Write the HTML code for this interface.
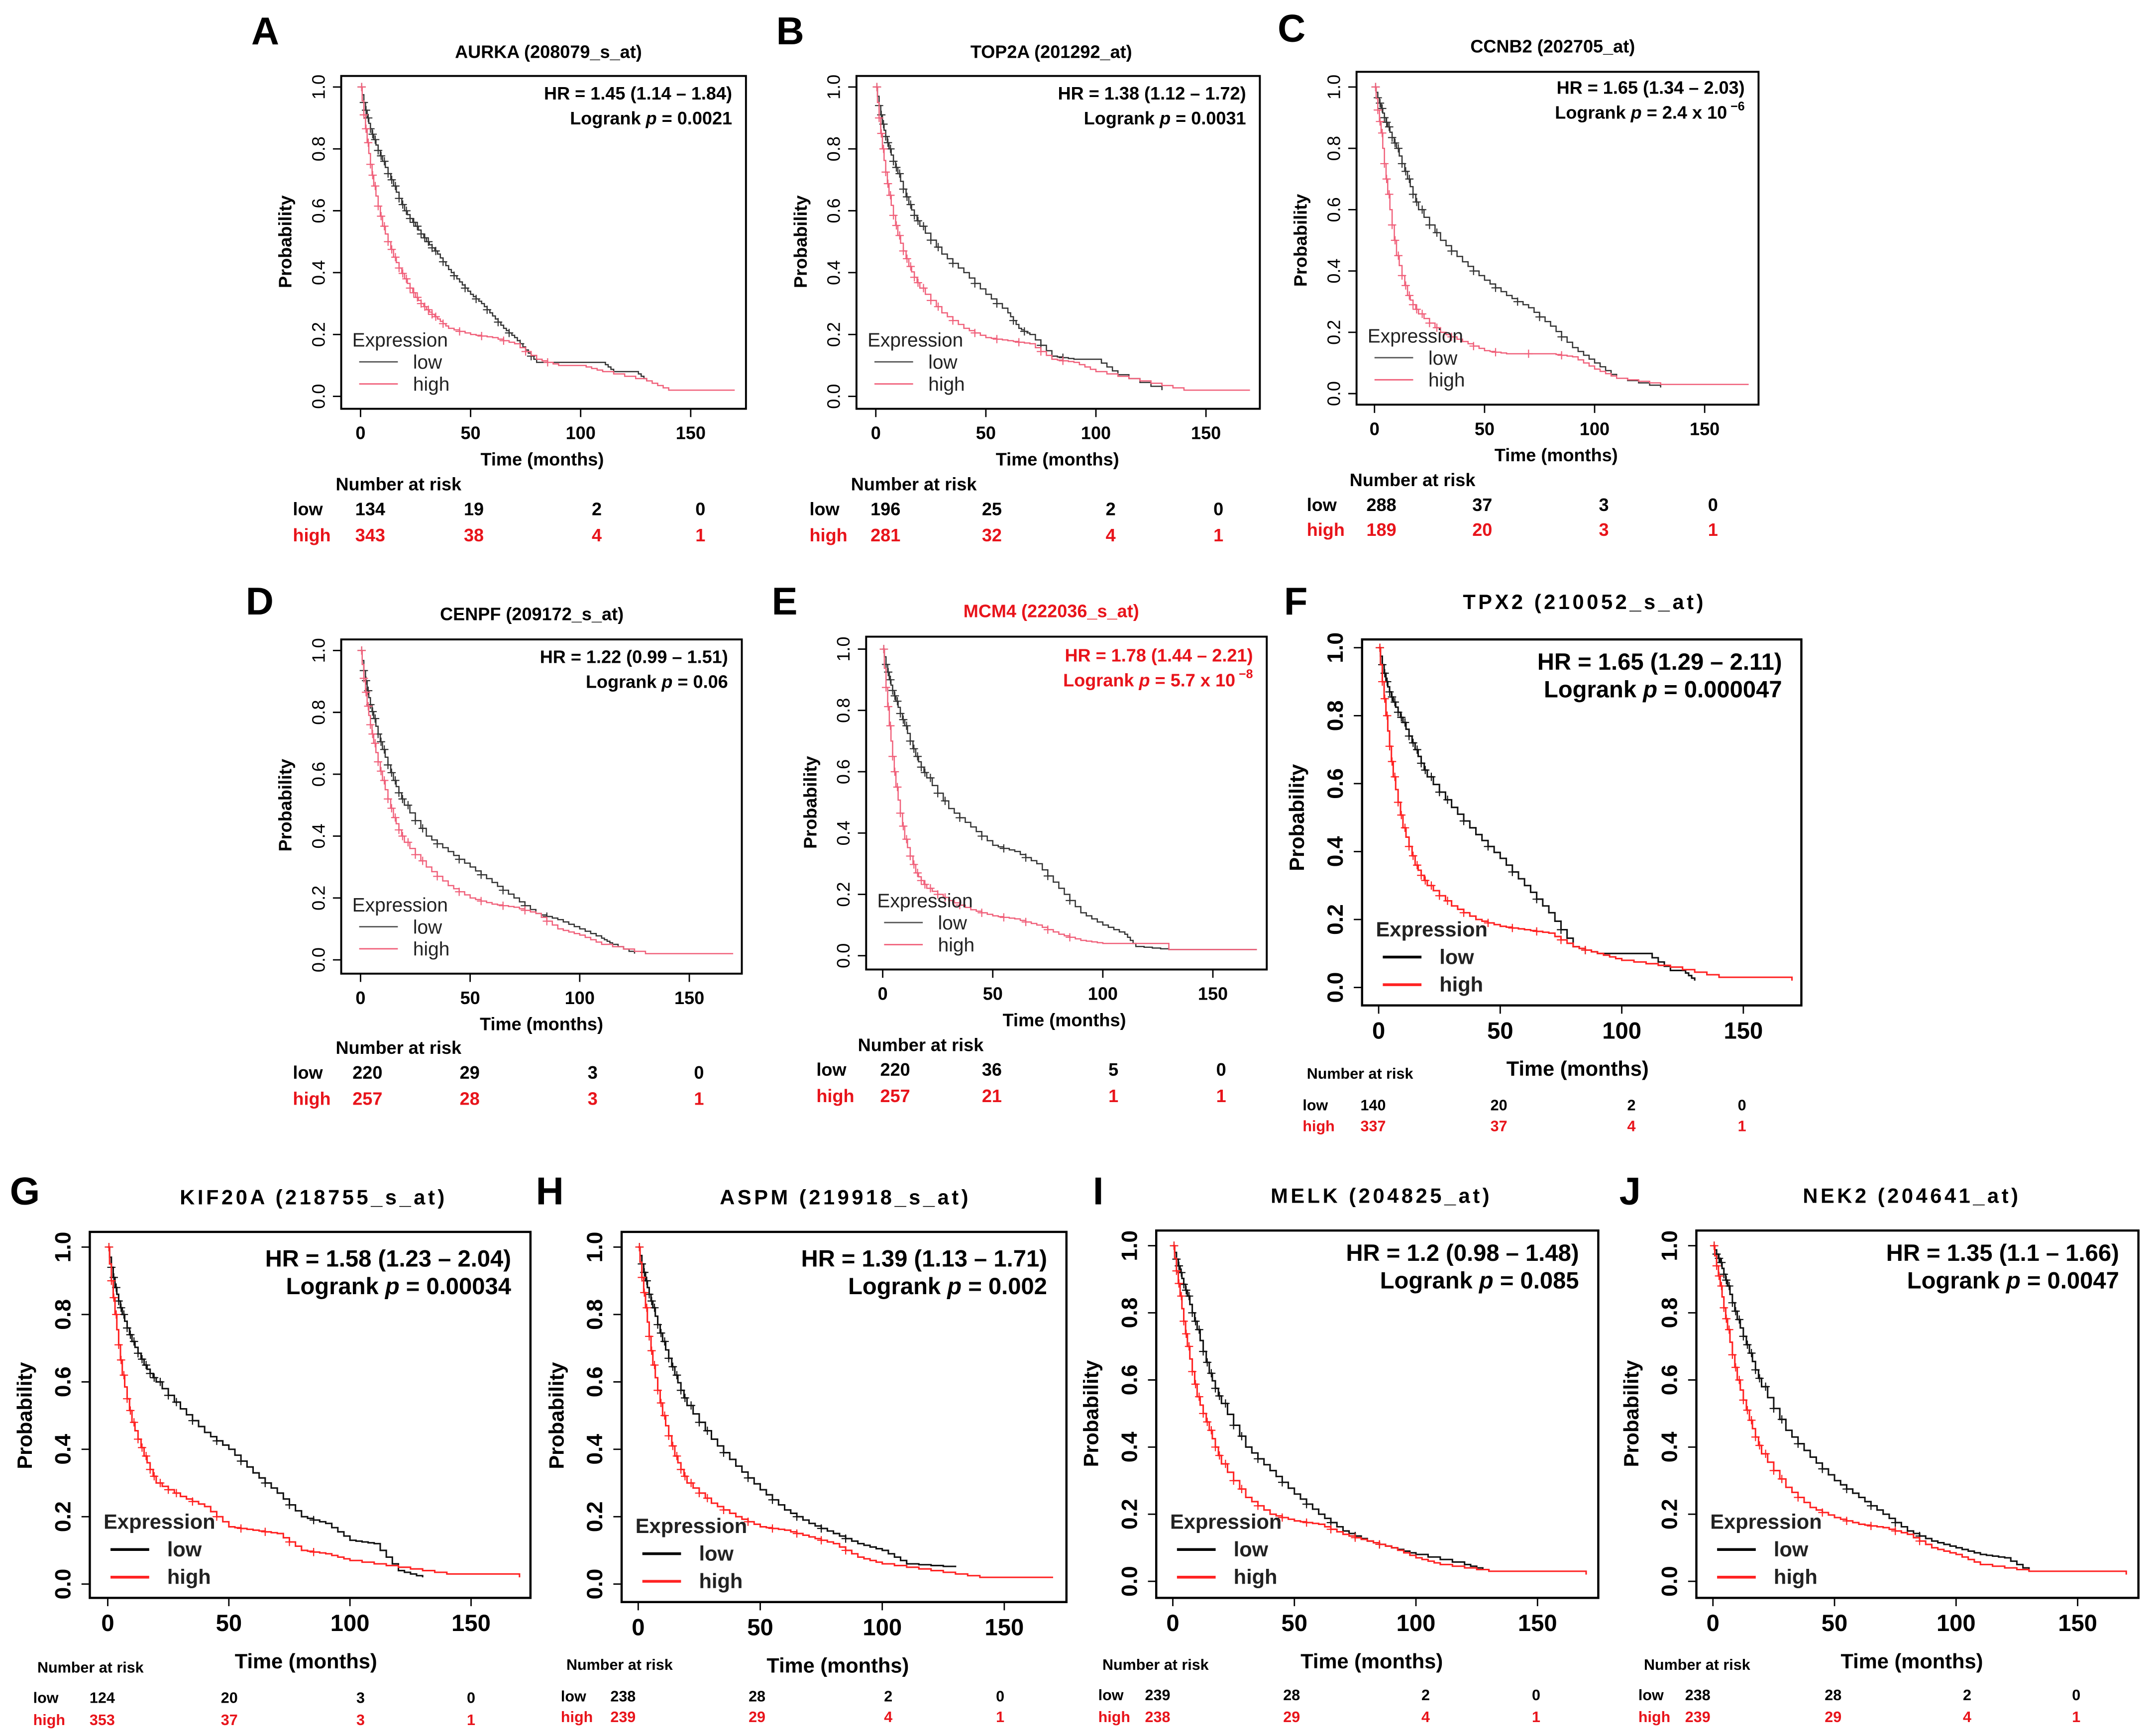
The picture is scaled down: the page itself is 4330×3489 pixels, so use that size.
<!DOCTYPE html>
<html><head><meta charset="utf-8"><style>
html,body{margin:0;padding:0;background:#fff;}
svg{display:block;font-family:"Liberation Sans",Arial,sans-serif;}
</style></head><body>
<svg id="fig" width="4330" height="3489" viewBox="0 0 1560 1257" xmlns="http://www.w3.org/2000/svg">
<rect x="0" y="0" width="1560" height="1257" fill="#fff"/>
</svg>
<script>
// ---- data: KM curves (time in months, survival probability) ----
const aLowT=[0,3,6,10,15,20,25,30,35,40,45,50,55,60,65,70,75,80,110,115,125,130];
const aLowS=[1,.9,.83,.76,.68,.6,.55,.5,.46,.41,.37,.33,.3,.26,.22,.19,.15,.11,.11,.08,.08,.05];
const aHighT=[0,3,6,10,15,20,25,30,35,40,50,60,70,80,90,100,110,130,140,170];
const aHighS=[1,.82,.68,.55,.45,.38,.32,.28,.25,.22,.2,.19,.17,.12,.1,.1,.08,.05,.02,.02];
const bLowT=[0,3,6,10,15,20,30,40,50,60,65,70,80,90,100,110,130];
const bLowS=[1,.88,.8,.72,.62,.55,.46,.4,.33,.27,.22,.2,.13,.12,.12,.07,.02];
const bHighT=[0,3,6,10,15,20,30,40,50,60,70,80,90,100,120,140,170];
const bHighS=[1,.8,.65,.52,.42,.35,.27,.22,.19,.18,.17,.12,.11,.08,.05,.02,.02];
const cLowT=[0,3,6,10,15,20,30,40,50,60,70,80,90,100,110,130];
const cLowS=[1,.93,.87,.8,.7,.6,.5,.43,.37,.32,.28,.22,.15,.1,.05,.02];
const cHighT=[0,3,6,10,15,20,30,40,50,60,80,90,100,110,130,170];
const cHighS=[1,.85,.65,.45,.32,.26,.2,.17,.14,.13,.13,.12,.08,.05,.03,.03];
const dLowT=[0,3,6,10,15,20,30,40,50,60,70,80,90,100,110,115,125];
const dLowS=[1,.87,.78,.68,.58,.5,.4,.35,.3,.25,.2,.15,.13,.1,.07,.05,.02];
const dHighT=[0,3,6,10,15,20,30,40,50,60,70,80,90,100,110,130,170];
const dHighS=[1,.82,.7,.58,.46,.38,.3,.24,.2,.18,.17,.15,.1,.08,.05,.02,.02];
const eLowT=[0,3,6,10,15,20,30,40,50,60,70,80,90,100,110,115,130,140,170];
const eLowS=[1,.9,.83,.75,.65,.58,.48,.42,.36,.34,.3,.22,.14,.1,.07,.03,.02,.02,.02];
const eHighT=[0,3,6,10,15,20,30,40,50,60,70,80,90,100,130,170];
const eHighS=[1,.75,.55,.38,.27,.22,.18,.15,.13,.12,.1,.07,.05,.04,.02,.02];
const fLowT=[0,3,6,10,15,20,30,40,50,60,70,80,90,100,110,120,125,130];
const fLowS=[1,.9,.84,.78,.7,.62,.53,.45,.38,.3,.22,.12,.1,.1,.1,.05,.05,.02];
const fHighT=[0,3,6,10,15,20,30,40,50,60,70,80,90,100,120,140,170];
const fHighS=[1,.8,.62,.47,.36,.3,.24,.2,.18,.17,.16,.12,.1,.08,.06,.03,.02];
const gLowT=[0,3,6,10,15,20,30,40,50,60,70,80,90,100,110,120,130];
const gLowS=[1,.88,.8,.72,.65,.6,.52,.45,.4,.33,.27,.2,.18,.13,.12,.04,.02];
const gHighT=[0,3,6,10,15,20,30,40,50,60,70,80,90,100,120,140,170];
const gHighS=[1,.8,.62,.48,.38,.3,.26,.23,.17,.16,.15,.1,.09,.07,.05,.03,.02];
const hLowT=[0,3,6,10,15,20,30,40,50,60,70,80,90,100,110,130];
const hLowS=[1,.9,.82,.72,.62,.53,.43,.35,.28,.22,.18,.15,.12,.1,.06,.05];
const hHighT=[0,3,6,10,15,20,30,40,50,60,70,80,90,100,120,140,170];
const hHighS=[1,.82,.65,.5,.38,.3,.24,.2,.17,.16,.14,.12,.08,.06,.04,.02,.02];
const iLowT=[0,3,6,10,15,20,30,40,50,60,70,80,90,100,120,130];
const iLowS=[1,.92,.85,.75,.62,.53,.4,.33,.26,.2,.15,.12,.1,.08,.05,.03];
const iHighT=[0,3,6,10,15,20,30,40,50,60,70,80,90,100,110,130,170];
const iHighS=[1,.85,.7,.55,.45,.35,.25,.2,.18,.17,.14,.12,.1,.07,.05,.03,.02];
const jLowT=[0,3,6,10,15,20,30,40,50,60,70,80,90,100,110,120,130];
const jLowS=[1,.95,.88,.78,.68,.58,.45,.37,.3,.25,.2,.15,.12,.1,.08,.07,.03];
const jHighT=[0,3,6,10,15,20,30,40,50,60,70,80,90,100,110,130,170];
const jHighS=[1,.88,.75,.6,.48,.38,.28,.22,.19,.17,.16,.14,.1,.08,.05,.03,.02];
// risk table values
const riskTimes=[0,50,100,150];
const aRiskLow=[134,19,2,0], aRiskHigh=[343,38,4,1];
const bRiskLow=[196,25,2,0], bRiskHigh=[281,32,4,1];
const cRiskLow=[288,37,3,0], cRiskHigh=[189,20,3,1];
const dRiskLow=[220,29,3,0], dRiskHigh=[257,28,3,1];
const eRiskLow=[220,36,5,0], eRiskHigh=[257,21,1,1];
const fRiskLow=[140,20,2,0], fRiskHigh=[337,37,4,1];
const gRiskLow=[124,20,3,0], gRiskHigh=[353,37,3,1];
const hRiskLow=[238,28,2,0], hRiskHigh=[239,29,4,1];
const iRiskLow=[239,28,2,0], iRiskHigh=[238,29,4,1];
const jRiskLow=[238,28,2,0], jRiskHigh=[239,29,4,1];
const yTicks=[0,0.2,0.4,0.6,0.8,1.0];
const xTicks=[0,50,100,150];

const NS="http://www.w3.org/2000/svg";
const svg=document.getElementById('fig');
function el(tag,attrs,parent,text){
  const e=document.createElementNS(NS,tag);
  for(const k in attrs)e.setAttribute(k,attrs[k]);
  if(text!==undefined)e.textContent=text;
  (parent||svg).appendChild(e);return e;
}
const panels=[
 {id:'a',L:'A',lx:192,ly:32,title:'AURKA (208079_s_at)',tx:397,ty:42,box:[247,55,540,296],x0:261,x150:500,y1:63,y0:287,hr:'HR = 1.45 (1.14 – 1.84)',p:'0.0021',hrY:72,big:false,lowT:aLowT,lowS:aLowS,highT:aHighT,highS:aHighS,rl:aRiskLow,rh:aRiskHigh,nar:[243,355],rows:[373,392],lab:212,cols:[268,343,432,507]},
 {id:'b',L:'B',lx:572,ly:32,title:'TOP2A (201292_at)',tx:761,ty:42,box:[620,55,912,296],x0:634,x150:873,y1:63,y0:287,hr:'HR = 1.38 (1.12 – 1.72)',p:'0.0031',hrY:72,big:false,lowT:bLowT,lowS:bLowS,highT:bHighT,highS:bHighS,rl:bRiskLow,rh:bRiskHigh,nar:[616,355],rows:[373,392],lab:586,cols:[641,718,804,882]},
 {id:'c',L:'C',lx:935,ly:30,title:'CCNB2 (202705_at)',tx:1124,ty:38,box:[982,52,1273,293],x0:995,x150:1234,y1:63,y0:285,hr:'HR = 1.65 (1.34 – 2.03)',p:'2.4 x 10',exp:'−6',hrY:68,big:false,lowT:cLowT,lowS:cLowS,highT:cHighT,highS:cHighS,rl:cRiskLow,rh:cRiskHigh,nar:[977,352],rows:[370,388],lab:946,cols:[1000,1073,1161,1240]},
 {id:'d',L:'D',lx:188,ly:445,title:'CENPF (209172_s_at)',tx:385,ty:449,box:[247,463,537,705],x0:261,x150:499,y1:471,y0:695,hr:'HR = 1.22 (0.99 – 1.51)',p:'0.06',hrY:480,big:false,lowT:dLowT,lowS:dLowS,highT:dHighT,highS:dHighS,rl:dRiskLow,rh:dRiskHigh,nar:[243,763],rows:[781,800],lab:212,cols:[266,340,429,506]},
 {id:'e',L:'E',lx:568,ly:445,title:'MCM4 (222036_s_at)',tx:761,ty:447,red:true,box:[627,461,917,702],x0:639,x150:878,y1:470,y0:692,hr:'HR = 1.78 (1.44 – 2.21)',p:'5.7 x 10',exp:'−8',hrY:479,big:false,lowT:eLowT,lowS:eLowS,highT:eHighT,highS:eHighS,rl:eRiskLow,rh:eRiskHigh,nar:[621,761],rows:[779,798],lab:591,cols:[648,718,806,884]},
 {id:'f',L:'F',lx:938,ly:445,title:'TPX2 (210052_s_at)',tx:1147,ty:441,box:[986,463,1304,728],x0:998,x150:1262,y1:469,y0:715,hr:'HR = 1.65 (1.29 – 2.11)',p:'0.000047',hrY:485,big:true,lowT:fLowT,lowS:fLowS,highT:fHighT,highS:fHighS,rl:fRiskLow,rh:fRiskHigh,nar:[946,781],rows:[804,819],lab:943,cols:[994,1085,1181,1261]},
 {id:'g',L:'G',lx:18,ly:872,title:'KIF20A (218755_s_at)',tx:227,ty:872,box:[65,892,384,1157],x0:78,x150:341,y1:903,y0:1147,hr:'HR = 1.58 (1.23 – 2.04)',p:'0.00034',hrY:917,big:true,lowT:gLowT,lowS:gLowS,highT:gHighT,highS:gHighS,rl:gRiskLow,rh:gRiskHigh,nar:[27,1211],rows:[1233,1249],lab:24,cols:[74,166,261,341]},
 {id:'h',L:'H',lx:398,ly:872,title:'ASPM (219918_s_at)',tx:612,ty:872,box:[450,892,772,1160],x0:462,x150:727,y1:903,y0:1147,hr:'HR = 1.39 (1.13 – 1.71)',p:'0.002',hrY:917,big:true,lowT:hLowT,lowS:hLowS,highT:hHighT,highS:hHighS,rl:hRiskLow,rh:hRiskHigh,nar:[410,1209],rows:[1232,1247],lab:406,cols:[451,548,643,724]},
 {id:'i',L:'I',lx:795,ly:872,title:'MELK (204825_at)',tx:1000,ty:871,box:[837,891,1157,1157],x0:849,x150:1113,y1:902,y0:1145,hr:'HR = 1.2 (0.98 – 1.48)',p:'0.085',hrY:913,big:true,lowT:iLowT,lowS:iLowS,highT:iHighT,highS:iHighS,rl:iRiskLow,rh:iRiskHigh,nar:[798,1209],rows:[1231,1247],lab:795,cols:[838,935,1032,1112]},
 {id:'j',L:'J',lx:1180,ly:872,title:'NEK2 (204641_at)',tx:1384,ty:871,box:[1228,891,1548,1157],x0:1240,x150:1504,y1:902,y0:1145,hr:'HR = 1.35 (1.1 – 1.66)',p:'0.0047',hrY:913,big:true,lowT:jLowT,lowS:jLowS,highT:jHighT,highS:jHighS,rl:jRiskLow,rh:jRiskHigh,nar:[1190,1209],rows:[1231,1247],lab:1186,cols:[1229,1327,1424,1503]}
];
panels.forEach(P=>{
  const g=el('g',{});
  
  
  const X=t=>P.x0+(P.x150-P.x0)*t/150;
  const Y=s=>P.y0+(P.y1-P.y0)*s;
  const big=P.big;
  const fs=big?16:13;
  const lt=el('text',{x:P.lx,y:P.ly,'font-size':28,'font-weight':'bold','text-anchor':'middle'},g,P.L);
  
  
  const tt=el('text',{x:P.tx,y:P.ty,'font-size':big?15:13,'font-weight':'bold','text-anchor':'middle','letter-spacing':big?2:0,fill:P.red?'#e8141b':'#000'},g,P.title);
  
  
  const [bx1,by1,bx2,by2]=P.box;
  const fr=el('rect',{x:bx1,y:by1,width:bx2-bx1,height:by2-by1,fill:'none',stroke:'#000','stroke-width':big?1.6:1.4},g);
  
  
  yTicks.forEach(v=>{
    const yy=Y(v);
    el('line',{x1:bx1-6,x2:bx1,y1:yy,y2:yy,stroke:'#000'},g);
    const tx=bx1-(big?14:12);
    const t=el('text',{x:tx,y:yy,'font-size':fs,'font-weight':big?'bold':'normal','text-anchor':'middle',transform:`rotate(-90 ${tx} ${yy})`},g,v.toFixed(1));
    
    
  });
  const px=bx1-(big?42:36), py=(P.y0+P.y1)/2;
  const pl=el('text',{x:px,y:py,'font-size':big?15:13,'font-weight':'bold','text-anchor':'middle',transform:`rotate(-90 ${px} ${py})`},g,'Probability');
  
  
  xTicks.forEach(v=>{
    const xx=X(v);
    el('line',{x1:xx,x2:xx,y1:by2,y2:by2+6,stroke:'#000'},g);
    const t=el('text',{x:xx,y:by2+(big?24:22),'font-size':big?17:13,'font-weight':'bold','text-anchor':'middle'},g,String(v));
    
    
  });
  const xl=el('text',{x:(P.x0+P.x150)/2+12,y:by2+(big?51:41),'font-size':big?15:13,'font-weight':'bold','text-anchor':'middle'},g,'Time (months)');
  
  
  const highC=big?'#ff2222':'#f0607a';
  const lowStroke=big?'#111':'#333';
  [[P.lowT,P.lowS,lowStroke,'low'],[P.highT,P.highS,highC,'high']].forEach(([T,S,c,nm])=>{
    let d=`M${X(T[0])},${Y(S[0])}`;
    const SUB=4;
    for(let i=1;i<T.length;i++){
      const ds=S[i]-S[i-1];
      if(Math.abs(ds)<1e-9||T[i]-T[i-1]>20){d+=` H${X(T[i])} V${Y(S[i])}`;continue;}
      for(let k=1;k<=SUB;k++){
        const tm=T[i-1]+(T[i]-T[i-1])*k/SUB;
        const sv=S[i-1]+ds*k/SUB;
        d+=` H${X(tm)} V${Y(sv)}`;
      }
    }
    const p=el('path',{d:d,fill:'none',stroke:c,'stroke-width':big?1.1:0.9},g);
    
    
    for(let i=1;i<T.length;i++){
      if(T[i]>90)break;
      const steps=T[i]<40?3:1;
      for(let k=0;k<steps;k++){
        const f=(k+0.5)/steps;
        const tm=T[i-1]+(T[i]-T[i-1])*f;
        const cx=X(tm), cy=Y(S[i-1]+(S[i]-S[i-1])*Math.floor(f*SUB)/SUB);
        el('path',{d:`M${cx-3},${cy}H${cx+3}M${cx},${cy-3}V${cy+3}`,stroke:c,'stroke-width':0.8},g);
      }
    }
  });
  const rx=bx2-(big?14:10);
  const hrc=P.red?'#e8141b':'#000';
  const h1=el('text',{x:rx,y:P.hrY,'font-size':big?17:13,'font-weight':'bold','text-anchor':'end',fill:hrc},g,P.hr);
  
  
  const h2=el('text',{x:rx,y:P.hrY+(big?20:18),'font-size':big?17:13,'font-weight':'bold','text-anchor':'end',fill:hrc},g);
  
  
  el('tspan',{},h2,'Logrank ');
  el('tspan',{'font-style':'italic'},h2,'p');
  el('tspan',{},h2,' = '+P.p);
  if(P.exp){el('tspan',{dy:-6,'font-size':9},h2,' '+P.exp);}
  const lgx=bx1+(big?10:8), lgy=big?by2-50:by2-45;
  const lg=el('text',{x:lgx,y:lgy,'font-size':big?15:14,'font-weight':big?'bold':'normal',fill:'#222'},g,'Expression');
  
  
  [['low',big?'#000':'#555'],['high',highC]].forEach(([nm,c],k)=>{
    const yy=lgy+(big?20:16)*(k+1);
    el('line',{x1:lgx+5,x2:lgx+33,y1:yy-5,y2:yy-5,stroke:c,'stroke-width':big?2:1},g);
    const t=el('text',{x:lgx+(big?46:44),y:yy,'font-size':big?15:14,'font-weight':big?'bold':'normal',fill:'#222'},g,nm);
    
    
  });
  const rfs=big?11:13;
  const nt=el('text',{x:P.nar[0],y:P.nar[1],'font-size':rfs,'font-weight':'bold'},g,'Number at risk');
  
  
  [['low',P.rl,'#000'],['high',P.rh,'#e8141b']].forEach(([nm,vals,c],k)=>{
    const yy=P.rows[k];
    const lb=el('text',{x:P.lab,y:yy,'font-size':rfs,'font-weight':'bold',fill:c},g,nm);
    
    
    riskTimes.forEach((t,i)=>{
      const v=el('text',{x:P.cols[i],y:yy,'font-size':rfs,'font-weight':'bold','text-anchor':'middle',fill:c},g,String(vals[i]));
      
      
    });
  });
});
</script>
</body></html>
